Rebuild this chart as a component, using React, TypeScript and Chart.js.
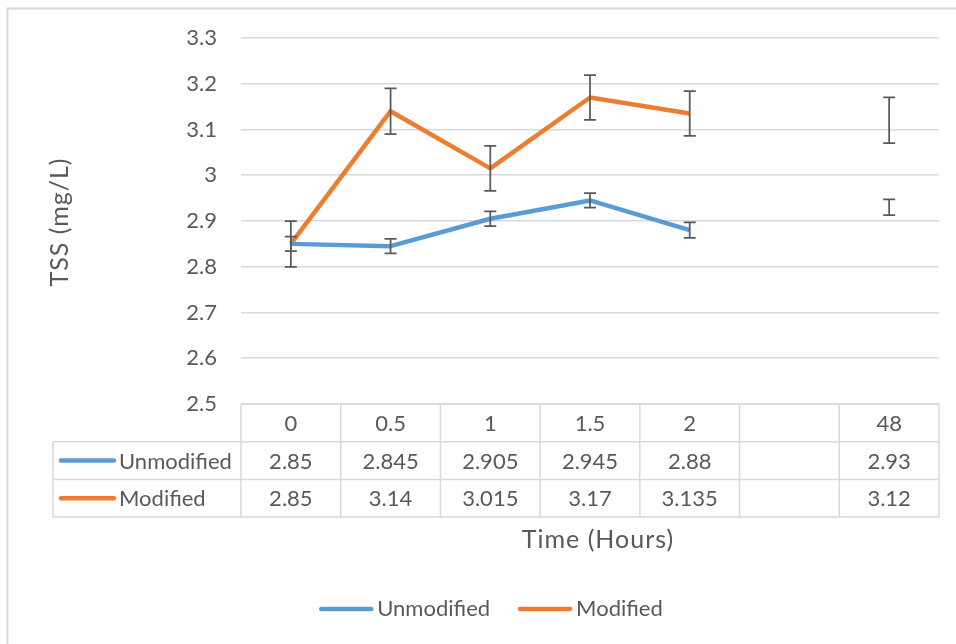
import React, { useEffect, useRef } from "react";
import { Chart, registerables } from "chart.js";

Chart.register(...registerables);

const categories: string[] = ["0", "0.5", "1", "1.5", "2", "", "48"];
const unmodified: (number | null)[] = [2.85, 2.845, 2.905, 2.945, 2.88, null, 2.93];
const modified: (number | null)[] = [2.85, 3.14, 3.015, 3.17, 3.135, null, 3.12];
const unmodifiedErr: (number | null)[] = [0.016, 0.016, 0.016, 0.016, 0.017, null, 0.017];
const modifiedErr: (number | null)[] = [0.05, 0.05, 0.049, 0.049, 0.049, null, 0.05];
const seriesNames: string[] = ["Unmodified", "Modified"];
const yTicks = { min: 2.5, max: 3.3, step: 0.1 };
const yTitle = "TSS (mg/L)";
const xTitle = "Time (Hours)";

const BLUE = "#5B9BD5";
const ORANGE = "#ED7D31";
const TEXT = "#595959";
const GRID = "#d9d9d9";
const FONT_FAMILY = "Lato, 'Open Sans', sans-serif";
const FONT_SIZE = 22;
const TITLE_SIZE = 25;

const errs = [unmodifiedErr, modifiedErr];

const customPlugin = {
  id: "excelExtras",
  beforeDraw(chart: any) {
    const ctx = chart.ctx;
    ctx.save();
    ctx.fillStyle = "#ffffff";
    ctx.fillRect(0, 0, chart.width, chart.height);
    ctx.strokeStyle = GRID;
    ctx.lineWidth = 2;
    ctx.strokeRect(7.5, 8.5, chart.width + 20, chart.height + 20);
    ctx.restore();
  },
  afterDatasetsDraw(chart: any) {
    const ctx = chart.ctx;
    const xs = chart.scales.x;
    const ys = chart.scales.y;
    ctx.save();
    ctx.strokeStyle = "#595959";
    ctx.lineWidth = 1.75;
    chart.data.datasets.forEach((ds: any, di: number) => {
      ds.data.forEach((v: number | null, i: number) => {
        const e = errs[di][i];
        if (v == null || e == null) return;
        const x = xs.getPixelForValue(i);
        const yt = ys.getPixelForValue(v + e);
        const yb = ys.getPixelForValue(v - e);
        ctx.beginPath();
        ctx.moveTo(x, yt);
        ctx.lineTo(x, yb);
        ctx.moveTo(x - 6, yt);
        ctx.lineTo(x + 6, yt);
        ctx.moveTo(x - 6, yb);
        ctx.lineTo(x + 6, yb);
        ctx.stroke();
      });
    });
    ctx.restore();
  },
  afterDraw(chart: any) {
    const ctx = chart.ctx;
    const xs = chart.scales.x;
    const area = chart.chartArea;
    const n = categories.length;
    const colW = (area.right - area.left) / n;
    const rowH = 37.7;
    const top = area.bottom;
    const legendLeft = 53;
    const font = `${FONT_SIZE}px ${FONT_FAMILY}`;
    ctx.save();
    ctx.strokeStyle = GRID;
    ctx.lineWidth = 1.5;
    const hline = (y: number, x0: number, x1: number) => {
      ctx.beginPath();
      ctx.moveTo(x0, y);
      ctx.lineTo(x1, y);
      ctx.stroke();
    };
    hline(top, area.left, area.right);
    hline(top + rowH, legendLeft, area.right);
    hline(top + 2 * rowH, legendLeft, area.right);
    hline(top + 3 * rowH, legendLeft, area.right);
    for (let k = 0; k <= n; k++) {
      const x = area.left + k * colW;
      ctx.beginPath();
      ctx.moveTo(x, top);
      ctx.lineTo(x, top + 3 * rowH);
      ctx.stroke();
    }
    ctx.beginPath();
    ctx.moveTo(legendLeft, top + rowH);
    ctx.lineTo(legendLeft, top + 3 * rowH);
    ctx.stroke();

    ctx.font = font;
    ctx.fillStyle = TEXT;
    ctx.textAlign = "center";
    ctx.textBaseline = "middle";
    categories.forEach((c, i) => {
      ctx.fillText(c, xs.getPixelForValue(i), top + rowH / 2 + 1);
    });
    const series = [unmodified, modified];
    const colors = [BLUE, ORANGE];
    series.forEach((s, si) => {
      const cy = top + rowH * (si + 1) + rowH / 2 + 1;
      s.forEach((v, i) => {
        if (v == null) return;
        ctx.fillText(String(v), xs.getPixelForValue(i), cy);
      });
      ctx.save();
      ctx.strokeStyle = colors[si];
      ctx.lineWidth = 4.5;
      ctx.lineCap = "round";
      ctx.beginPath();
      ctx.moveTo(61, cy - 1);
      ctx.lineTo(114, cy - 1);
      ctx.stroke();
      ctx.restore();
      ctx.textAlign = "left";
      ctx.fillText(seriesNames[si], 119, cy);
      ctx.textAlign = "center";
    });

    // bottom legend
    const lineLen = 54;
    const gapText = 4;
    const itemGap = 28;
    const widths = seriesNames.map((s) => ctx.measureText(s).width);
    const total = widths.reduce((a, w) => a + lineLen + gapText + w, 0) + itemGap;
    let x = 491 - total / 2;
    const ly = 609;
    seriesNames.forEach((s, si) => {
      ctx.save();
      ctx.strokeStyle = colors[si];
      ctx.lineWidth = 4.5;
      ctx.lineCap = "round";
      ctx.beginPath();
      ctx.moveTo(x + 2, ly);
      ctx.lineTo(x + lineLen - 2, ly);
      ctx.stroke();
      ctx.restore();
      ctx.textAlign = "left";
      ctx.fillText(s, x + lineLen + gapText, ly);
      x += lineLen + gapText + widths[si] + itemGap;
    });

    // axis titles
    ctx.font = `${TITLE_SIZE}px ${FONT_FAMILY}`;
    (ctx as any).letterSpacing = "1px";
    ctx.textAlign = "center";
    ctx.fillText(xTitle, 598, 540);
    ctx.save();
    ctx.translate(60, 222);
    ctx.rotate(-Math.PI / 2);
    ctx.fillText(yTitle, 0, 0);
    ctx.restore();
    (ctx as any).letterSpacing = "0px";
    ctx.restore();
  },
};

export default function App() {
  const ref = useRef<HTMLCanvasElement | null>(null);
  useEffect(() => {
    if (!ref.current) return;
    const chart = new Chart(ref.current, {
      type: "line",
      data: {
        labels: categories,
        datasets: [
          {
            label: seriesNames[0],
            data: unmodified,
            borderColor: BLUE,
            backgroundColor: BLUE,
            borderWidth: 4.5,
            pointRadius: 0,
            tension: 0,
            borderCapStyle: "butt",
            borderJoinStyle: "round",
            spanGaps: false,
          },
          {
            label: seriesNames[1],
            data: modified,
            borderColor: ORANGE,
            backgroundColor: ORANGE,
            borderWidth: 4.5,
            pointRadius: 0,
            tension: 0,
            borderCapStyle: "butt",
            borderJoinStyle: "round",
            spanGaps: false,
          },
        ],
      },
      options: {
        responsive: false,
        animation: false,
        layout: { padding: { left: 0, top: 38, right: 17, bottom: 240 } },
        plugins: { legend: { display: false }, tooltip: { enabled: false } },
        scales: {
          x: {
            type: "category",
            display: false,
            offset: true,
          },
          y: {
            min: yTicks.min,
            max: yTicks.max,
            border: { display: false },
            grid: { color: GRID, lineWidth: 1.5, drawTicks: false },
            ticks: {
              stepSize: yTicks.step,
              padding: 24,
              color: TEXT,
              font: { family: FONT_FAMILY, size: FONT_SIZE },
              callback: (v: any) => String(Number(Number(v).toFixed(1))),
            },
            afterFit: (scale: any) => {
              scale.width = 241;
            },
          },
        },
      },
      plugins: [customPlugin],
    });
    return () => chart.destroy();
  }, []);
  return (
    <div style={{ position: "fixed", left: 0, top: 0, width: 956, height: 644, background: "#fff" }}>
      <canvas ref={ref} width={956} height={644} style={{ display: "block" }} />
    </div>
  );
}
